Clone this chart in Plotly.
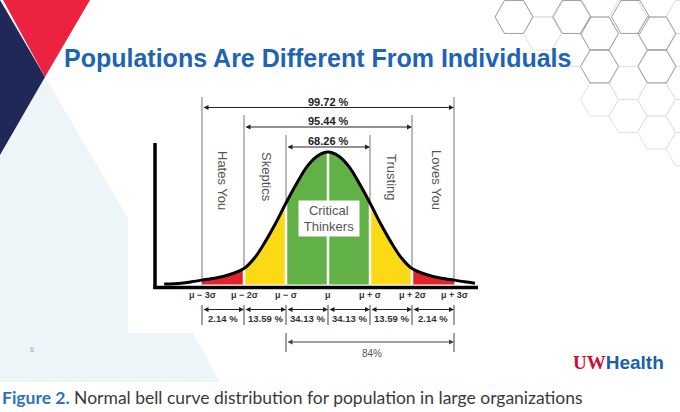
import plotly.graph_objects as go

W, H = 680, 412

# bell curve: position in sigmas, height relative to the peak
Z_PTS = [-3.9, -3.5, -3.25, -3.0, -2.75, -2.5, -2.25, -2.0, -1.75, -1.5, -1.25, -1.0, -0.75, -0.5, -0.25,
         0.0, 0.25, 0.5, 0.75, 1.0, 1.25, 1.5, 1.75, 2.0, 2.25, 2.5, 2.75, 3.0, 3.25, 3.5]
H_PTS = [0.003, 0.01, 0.02, 0.033, 0.045, 0.06, 0.085, 0.12, 0.2, 0.32, 0.46, 0.615, 0.76, 0.89, 0.97,
         1.0, 0.97, 0.89, 0.76, 0.615, 0.46, 0.32, 0.2, 0.12, 0.085, 0.06, 0.045, 0.033, 0.02, 0.01]

BOUNDS = [-3, -2, -1, 0, 1, 2, 3]
SIGMA_LABELS = ['μ − 3σ', 'μ − 2σ', 'μ − σ', 'μ', 'μ + σ', 'μ + 2σ', 'μ + 3σ']
SEG_COLORS = ['#e2232a', '#fbd914', '#62b146', '#62b146', '#fbd914', '#e2232a']
SEG_PCT = ['2.14 %', '13.59 %', '34.13 %', '34.13 %', '13.59 %', '2.14 %']
SPAN_LO = [-3, -2, -1]
SPAN_HI = [3, 2, 1]
SPAN_LABELS = ['99.72 %', '95.44 %', '68.26 %']
BAND_LABELS = ['Hates You', 'Skeptics', 'Trusting', 'Loves You']
CUM_LO, CUM_HI, CUM_LABEL = -1, 3, '84%'

# pixel geometry of the chart
X0, SIG = 328.0, 42.0
BASE, HPX = 284.5, 132.5


def zx(px):
    return (px - X0) / SIG


def hy(py):
    return (BASE - py) / HPX


def pp(x, y):
    return x / W, 1 - y / H


def poly(pts):
    s = ''
    for i, (x, y) in enumerate(pts):
        a, b = pp(x, y)
        s += ('M' if i == 0 else 'L') + f'{a:.5f},{b:.5f} '
    return s + 'Z'


def hexagon(cx, cy, r=19.0):
    k = 0.866 * r
    return poly([(cx - r, cy), (cx - r / 2, cy - k), (cx + r / 2, cy - k),
                 (cx + r, cy), (cx + r / 2, cy + k), (cx - r / 2, cy + k)])


HZ = dict(zip(Z_PTS, H_PTS))

fig = go.Figure()

for i, col in enumerate(SEG_COLORS):
    lo, hi = BOUNDS[i], BOUNDS[i + 1]
    xs = [z for z in Z_PTS if lo <= z <= hi]
    ys = [HZ[z] for z in xs]
    fig.add_trace(go.Scatter(x=xs, y=ys, mode='lines', fill='tozeroy', fillcolor=col,
                             line=dict(width=0, shape='spline'), hoverinfo='skip'))

sx, sy = [], []
for z in BOUNDS[1:-1]:
    sx += [z, z, None]
    sy += [0, HZ[z], None]
fig.add_trace(go.Scatter(x=sx, y=sy, mode='lines', line=dict(color='white', width=2.5), hoverinfo='skip'))

tops = {3: 97, 2: 115, 1: 135}
gx, gy = [], []
for z in BOUNDS:
    if z == 0:
        continue
    bottom = 0 if abs(z) == 3 else HZ[z]
    gx += [z, z, None]
    gy += [bottom, hy(tops[abs(z)]), None]
fig.add_trace(go.Scatter(x=gx, y=gy, mode='lines', line=dict(color='#777777', width=1), hoverinfo='skip'))

fig.add_trace(go.Scatter(x=Z_PTS, y=H_PTS, mode='lines', line=dict(color='black', width=3, shape='spline'),
                         hoverinfo='skip'))

# lower tick marks
tx, ty = [], []
for z in BOUNDS:
    tx += [z, z, None]
    ty += [hy(305), hy(325), None]
for z in [CUM_LO, CUM_HI]:
    tx += [z, z, None]
    ty += [hy(333), hy(352), None]
fig.add_trace(go.Scatter(x=tx, y=ty, mode='lines', line=dict(color='#444444', width=1), hoverinfo='skip'))

ann = []


def arrow(z0, z1, py, color='#222222'):
    ann.append(dict(x=z1, y=hy(py), ax=z0, ay=hy(py), xref='x', yref='y', axref='x', ayref='y',
                    text='', showarrow=True, arrowside='end+start', arrowhead=2, arrowsize=1,
                    arrowwidth=1, arrowcolor=color, standoff=0, startstandoff=0))


for lo, hi, lab, ar, tp in zip(SPAN_LO, SPAN_HI, SPAN_LABELS, [107.5, 127, 147], [102, 121, 141]):
    arrow(lo, hi, ar)
    ann.append(dict(x=(lo + hi) / 2, y=hy(tp), xref='x', yref='y', text='<b>' + lab + '</b>',
                    showarrow=False, font=dict(size=11, color='#222222'), yanchor='middle'))

for z, lab in zip(BOUNDS, SIGMA_LABELS):
    ann.append(dict(x=z, y=hy(295), xref='x', yref='y', text='<b>' + lab + '</b>', showarrow=False,
                    font=dict(size=9, color='#333333')))

for i, lab in enumerate(SEG_PCT):
    lo, hi = BOUNDS[i], BOUNDS[i + 1]
    arrow(lo, hi, 309.5)
    ann.append(dict(x=(lo + hi) / 2, y=hy(318.5), xref='x', yref='y', text='<b>' + lab + '</b>',
                    showarrow=False, font=dict(size=9.5, color='#333333')))

arrow(CUM_LO, CUM_HI, 342, '#444444')
ann.append(dict(x=(CUM_LO + CUM_HI) / 2 + 0.05, y=hy(353), xref='x', yref='y', text=CUM_LABEL,
                showarrow=False, font=dict(size=10, color='#555555')))

for lab, px in zip(BAND_LABELS, [223, 267, 392, 437]):
    ann.append(dict(x=zx(px), y=hy(180 if 'You' in lab else 177), xref='x', yref='y', text=lab,
                    textangle=90, showarrow=False, font=dict(size=13, color='#555555')))

ann.append(dict(x=zx(329), y=hy(218.5), xref='x', yref='y', text='Critical<br>Thinkers', showarrow=False,
                width=58, height=33, bgcolor='white', font=dict(size=13, color='#555555')))

# slide texts
ann.append(dict(x=317 / W, y=1 - 58 / H, xref='paper', yref='paper', xanchor='center', yanchor='middle',
                text='<b>Populations Are Different From Individuals</b>', showarrow=False,
                font=dict(size=25, color='#1d64b4', family='Liberation Sans Narrow, Liberation Sans')))
ann.append(dict(x=32 / W, y=1 - 349 / H, xref='paper', yref='paper', xanchor='center', yanchor='middle',
                text='6', showarrow=False, font=dict(size=7, color='#5bbcc4')))
ann.append(dict(x=618 / W, y=1 - 362 / H, xref='paper', yref='paper', xanchor='center', yanchor='middle',
                showarrow=False,
                text="<b><span style='font-family:Liberation Serif;color:#c8102e'>UW</span>"
                     "<span style='color:#1a5eab'>Health</span></b>",
                font=dict(size=19)))
ann.append(dict(x=0, y=1 - 397 / H, xref='paper', yref='paper', xanchor='left', yanchor='middle',
                showarrow=False,
                text="<b><span style='color:#2b73b9'>Figure 2.</span></b> Normal bell curve distribution "
                     "for population in large organizations",
                font=dict(size=17.5, color='#3a3a3a', family='Lato')))

shapes = [
    dict(type='path', path=poly([(45, 77), (128, 218), (128, 333), (193, 333), (220, 382), (0, 382), (0, 155)]),
         xref='paper', yref='paper', fillcolor='#eef5f9', line=dict(width=0), layer='below'),
    dict(type='path', path=poly([(0, 0), (45, 77), (0, 155)]), xref='paper', yref='paper',
         fillcolor='#1f2858', line=dict(width=0), layer='below'),
    dict(type='path', path=poly([(3, 0), (90, 0), (45, 77)]), xref='paper', yref='paper',
         fillcolor='#ec2340', line=dict(width=0), layer='below'),
]

for k in range(-1, 8):
    cx = 514 + 28.5 * k
    for j in range(-1, 6):
        cy = 17 + 33 * j + (16.5 if k % 2 else 0)
        if cx >= 486 and cy <= 40 + (cx - 500) * 0.6:
            shapes.append(dict(type='path', path=hexagon(cx, cy), xref='paper', yref='paper',
                               line=dict(color='#e2e2e2', width=1), layer='below'))
for cx, cy in [(514, 17), (572, 17), (630.5, 17), (599.5, 33.5), (599.5, 66.5), (657, 33.5), (657, 66.5)]:
    shapes.append(dict(type='path', path=hexagon(cx, cy), xref='paper', yref='paper',
                       line=dict(color='#a0a0a0', width=1), layer='below'))

# chart frame
shapes.append(dict(type='line', xref='paper', yref='paper', x0=155 / W, x1=155 / W, y0=1 - 143 / H,
                   y1=1 - 289 / H, line=dict(color='black', width=3.5)))
shapes.append(dict(type='line', xref='paper', yref='paper', x0=153.5 / W, x1=478 / W, y0=1 - 287.5 / H,
                   y1=1 - 287.5 / H, line=dict(color='black', width=3.5)))

fig.update_layout(
    width=W, height=H, margin=dict(l=0, r=0, t=0, b=0),
    paper_bgcolor='white', plot_bgcolor='rgba(0,0,0,0)',
    showlegend=False,
    font=dict(family='Liberation Sans'),
    xaxis=dict(range=[zx(0), zx(W)], visible=False, fixedrange=True),
    yaxis=dict(range=[hy(H), hy(0)], visible=False, fixedrange=True),
    annotations=ann, shapes=shapes,
)

fig.write_html('out.html', config={'displayModeBar': False},
               post_script='document.body.style.margin = "0";')
